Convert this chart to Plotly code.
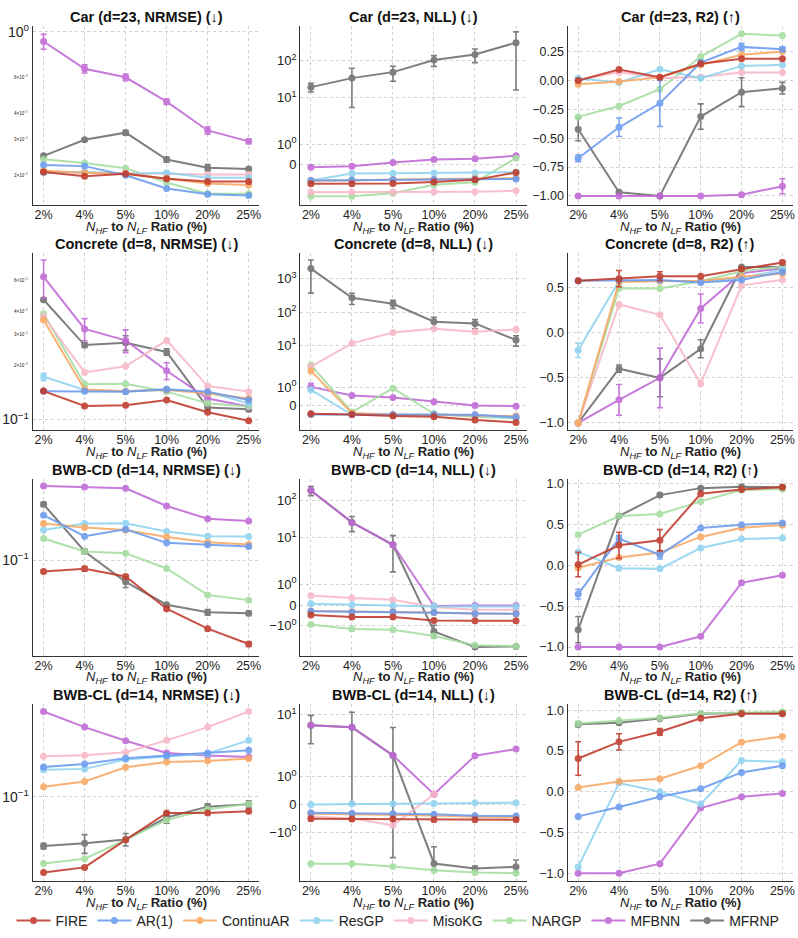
import math
import plotly.graph_objects as go

# ---------------- data ----------------
RATIOS = ["2%", "4%", "5%", "10%", "20%", "25%"]
METHODS = ["FIRE", "AR(1)", "ContinuAR", "ResGP", "MisoKG", "NARGP", "MFBNN", "MFRNP"]
COLORS = ["#c0392b", "#6a9bef", "#f8a863", "#8fd3f0", "#f7b8c6", "#a5dda0", "#c068d6", "#6e6e6e"]
N = None

CAR_NRMSE = {
    "FIRE": [0.207, 0.197, 0.203, 0.192, 0.186, 0.186],
    "AR(1)": [0.224, 0.221, 0.1995, 0.172, 0.161, 0.159],
    "ContinuAR": [0.210, 0.205, 0.203, 0.193, 0.182, 0.179],
    "ResGP": [0.205, 0.207, 0.203, 0.205, 0.194, 0.194],
    "MisoKG": [0.207, 0.206, 0.205, 0.203, 0.201, 0.201],
    "NARGP": [0.239, 0.229, 0.216, 0.184, 0.162, 0.162],
    "MFBNN": [0.897, 0.66, 0.60, 0.456, 0.33, 0.292],
    "MFRNP": [0.248, 0.297, 0.322, 0.238, 0.217, 0.214],
}
CAR_NRMSE_ERR = {
    "MFBNN": [0.075, 0.03, 0.022, 0.014, 0.014, 0.008],
    "MFRNP": [0.004, 0.004, 0.009, 0.007, 0.008, 0.004],
}
CAR_NLL = {
    "FIRE": [-0.92, -0.92, -0.91, -0.83, -0.73, -0.37],
    "AR(1)": [-0.76, -0.74, -0.72, -0.71, -0.70, -0.69],
    "ContinuAR": [-0.76, -0.76, -0.71, -0.70, -0.66, -0.65],
    "ResGP": [-0.76, -0.42, -0.405, -0.40, -0.40, -0.36],
    "MisoKG": [-1.33, -1.33, -1.32, -1.30, -1.30, -1.26],
    "NARGP": [-1.52, -1.52, -1.38, -0.97, -0.84, 0.32],
    "MFBNN": [-0.113, -0.065, 0.113, 0.26, 0.29, 0.44],
    "MFRNP": [19.1, 33.4, 48.4, 102, 145, 301],
}
CAR_NLL_ERR = {
    "MFRNP": [5, 28, 21, 33, 58, 285],
}
CAR_R2 = {
    "FIRE": [0.0, 0.095, 0.029, 0.145, 0.188, 0.188],
    "AR(1)": [-0.673, -0.405, -0.197, 0.156, 0.292, 0.272],
    "ContinuAR": [-0.032, -0.009, 0.029, 0.136, 0.223, 0.251],
    "ResGP": [0.02, -0.017, 0.098, 0.02, 0.127, 0.136],
    "MisoKG": [0.0, 0.075, 0.02, 0.03, 0.069, 0.069],
    "NARGP": [-0.315, -0.22, -0.075, 0.208, 0.405, 0.39],
    "MFBNN": [-1.0, -1.0, -1.0, -1.0, -0.99, -0.916],
    "MFRNP": [-0.422, -0.968, -1.0, -0.312, -0.101, -0.066],
}
CAR_R2_ERR = {
    "AR(1)": [0.03, 0.08, 0.2, 0.02, 0.03, 0.02],
    "MFBNN": [N, N, N, N, N, 0.065],
    "MFRNP": [0.1, 0.015, N, 0.11, 0.125, 0.05],
}
CONCRETE_NRMSE = {
    "FIRE": [0.144, 0.119, 0.12, 0.1285, 0.1098, 0.0983],
    "AR(1)": [0.1435, 0.1435, 0.143, 0.147, 0.143, 0.1285],
    "ContinuAR": [0.359, 0.147, 0.1435, 0.146, 0.14, 0.131],
    "ResGP": [0.173, 0.146, 0.1435, 0.148, 0.142, 0.123],
    "MisoKG": [0.375, 0.183, 0.198, 0.276, 0.1535, 0.143],
    "NARGP": [0.388, 0.157, 0.158, 0.143, 0.123, 0.118],
    "MFBNN": [0.624, 0.32, 0.276, 0.187, 0.131, 0.118],
    "MFRNP": [0.465, 0.26, 0.268, 0.238, 0.1165, 0.114],
}
CONCRETE_NRMSE_ERR = {
    "ResGP": [0.008, N, N, N, N, N],
    "MFBNN": [0.15, 0.045, 0.04, 0.02, 0.005, 0.005],
    "MFRNP": [0.01, 0.008, 0.025, 0.01, 0.003, 0.003],
}
CONCRETE_NLL = {
    "FIRE": [-0.45, -0.486, -0.576, -0.612, -0.79, -0.918],
    "AR(1)": [-0.486, -0.486, -0.5, -0.486, -0.5, -0.63],
    "ContinuAR": [1.872, -0.414, -0.486, -0.52, -0.52, -0.576],
    "ResGP": [0.846, -0.504, -0.504, -0.486, -0.558, -0.666],
    "MisoKG": [2.29, 11.5, 24.5, 31.6, 25.7, 30.2],
    "NARGP": [2.57, -0.36, 0.936, -0.45, -0.61, -0.70],
    "MFBNN": [1.008, 0.54, 0.432, 0.198, 0.0, -0.036],
    "MFRNP": [2043, 269, 178, 51.3, 45.7, 14.5],
}
CONCRETE_NLL_ERR = {
    "MFBNN": [0.2, N, N, N, N, N],
    "MFRNP": [1670, 100, 50, 18, 14, 5],
}
CONCRETE_R2 = {
    "FIRE": [0.578, 0.6, 0.626, 0.626, 0.707, 0.78],
    "AR(1)": [0.578, 0.586, 0.586, 0.556, 0.586, 0.674],
    "ContinuAR": [-1.0, 0.563, 0.575, 0.575, 0.62, 0.656],
    "ResGP": [-0.195, 0.575, 0.575, 0.567, 0.608, 0.70],
    "MisoKG": [-1.0, 0.313, 0.199, -0.564, 0.523, 0.589],
    "NARGP": [-1.0, 0.494, 0.49, 0.571, 0.681, 0.733],
    "MFBNN": [-1.0, -0.744, -0.5, 0.269, 0.66, 0.715],
    "MFRNP": [-1.0, -0.398, -0.5, -0.177, 0.729, 0.729],
}
CONCRETE_R2_ERR = {
    "FIRE": [N, 0.09, 0.05, N, N, 0.02],
    "ResGP": [0.08, N, N, N, N, N],
    "MFBNN": [N, 0.17, 0.33, 0.16, N, N],
    "MFRNP": [N, 0.04, 0.21, 0.1, N, N],
}
BWBCD_NRMSE = {
    "FIRE": [0.0837, 0.0873, 0.0774, 0.0466, 0.034, 0.0267],
    "AR(1)": [0.203, 0.146, 0.1627, 0.1313, 0.1273, 0.124],
    "ContinuAR": [0.178, 0.167, 0.161, 0.144, 0.1327, 0.128],
    "ResGP": [0.161, 0.178, 0.179, 0.1568, 0.146, 0.145],
    "MisoKG": [N, N, N, N, N, N],
    "NARGP": [0.1405, 0.1146, 0.1116, 0.0877, 0.0577, 0.0533],
    "MFBNN": [0.321, 0.316, 0.31, 0.2346, 0.192, 0.1855],
    "MFRNP": [0.241, 0.1146, 0.0711, 0.0496, 0.044, 0.0433],
}
BWBCD_NRMSE_ERR = {
    "FIRE": [0.002, 0.003, 0.002, 0.001, N, 0.001],
    "MFRNP": [0.008, 0.004, 0.006, N, 0.002, 0.0015],
}
BWBCD_NLL = {
    "FIRE": [-0.482, -0.579, -0.579, -0.74, -0.756, -0.756],
    "AR(1)": [-0.30, -0.33, -0.33, -0.36, -0.42, -0.42],
    "ContinuAR": [-0.29, -0.32, -0.32, -0.354, -0.418, -0.418],
    "ResGP": [0.064, 0.016, -0.016, -0.064, -0.07, -0.07],
    "MisoKG": [0.466, 0.338, 0.257, -0.096, -0.225, -0.225],
    "NARGP": [-0.932, -1.157, -1.19, -1.49, -1.94, -1.98],
    "MFBNN": [182, 25.4, 6.4, -0.048, -0.016, -0.016],
    "MFRNP": [182, 25.4, 6.4, -1.27, -2.06, -1.99],
}
BWBCD_NLL_ERR = {
    "MFRNP": [50, 11, 4.8, 0.3, N, N],
}
BWBCD_R2 = {
    "FIRE": [0.008, 0.243, 0.304, 0.872, 0.925, 0.953],
    "AR(1)": [-0.353, 0.325, 0.126, 0.454, 0.495, 0.515],
    "ContinuAR": [-0.032, 0.093, 0.154, 0.345, 0.458, 0.491],
    "ResGP": [0.162, -0.037, -0.045, 0.211, 0.32, 0.333],
    "MisoKG": [N, N, N, N, N, N],
    "NARGP": [0.373, 0.6, 0.625, 0.779, 0.917, 0.929],
    "MFBNN": [-1.0, -1.0, -1.0, -0.868, -0.215, -0.122],
    "MFRNP": [-0.787, 0.6, 0.856, 0.941, 0.957, 0.953],
}
BWBCD_R2_ERR = {
    "FIRE": [0.15, 0.16, 0.13, N, N, N],
    "AR(1)": [0.06, 0.04, 0.05, N, N, N],
    "MFRNP": [0.16, 0.02, 0.02, N, N, N],
}
BWBCL_NRMSE = {
    "FIRE": [0.0311, 0.0336, 0.0514, 0.0778, 0.0778, 0.0798],
    "AR(1)": [0.1585, 0.166, 0.181, 0.1887, 0.1965, 0.2047],
    "ContinuAR": [0.1166, 0.1265, 0.1577, 0.171, 0.1738, 0.1802],
    "ResGP": [0.1514, 0.1537, 0.1774, 0.185, 0.1945, 0.2387],
    "MisoKG": [0.1866, 0.1896, 0.1984, 0.2387, 0.293, 0.3725],
    "NARGP": [0.0357, 0.0384, 0.0514, 0.0699, 0.0824, 0.0893],
    "MFBNN": [0.3725, 0.293, 0.2375, 0.1965, 0.1887, 0.185],
    "MFRNP": [0.0467, 0.0487, 0.0517, 0.0725, 0.0858, 0.0889],
}
BWBCL_NRMSE_ERR = {
    "MFRNP": [0.002, 0.007, 0.005, 0.006, 0.004, 0.005],
}
BWBCL_NLL = {
    "FIRE": [-0.516, -0.528, -0.528, -0.552, -0.552, -0.552],
    "AR(1)": [-0.30, -0.32, -0.34, -0.35, -0.41, -0.42],
    "ContinuAR": [-0.336, -0.348, -0.372, -0.396, -0.444, -0.48],
    "ResGP": [0.0, 0.024, 0.024, 0.036, 0.06, 0.06],
    "MisoKG": [-0.432, -0.504, -0.756, 0.372, N, N],
    "NARGP": [-2.42, -2.40, -2.74, -3.24, -3.6, -3.72],
    "MFBNN": [6.07, 5.53, 1.776, 0.372, 1.764, 2.01],
    "MFRNP": [6.07, 5.53, 1.776, -2.38, -3.0, -2.78],
}
BWBCL_NLL_ERR = {
    "MFRNP": [3.5, 5.5, 3.7, 0.85, 0.3, 0.75],
}
BWBCL_R2 = {
    "FIRE": [0.408, 0.612, 0.735, 0.902, 0.955, 0.955],
    "AR(1)": [-0.302, -0.188, -0.061, 0.037, 0.237, 0.318],
    "ContinuAR": [0.053, 0.127, 0.159, 0.318, 0.608, 0.678],
    "ResGP": [-0.922, 0.106, 0.0, -0.151, 0.384, 0.367],
    "MisoKG": [N, N, N, N, N, N],
    "NARGP": [0.837, 0.873, 0.906, 0.963, 0.976, 0.98],
    "MFBNN": [-1.0, -1.0, -0.882, -0.2, -0.061, -0.02],
    "MFRNP": [0.829, 0.845, 0.898, 0.955, 0.967, 0.967],
}
BWBCL_R2_ERR = {
    "FIRE": [0.205, 0.1, 0.04, N, N, N],
    "MFRNP": [0.03, N, N, N, N, N],
}

PANELS = [
    dict(title="Car (d=23, NRMSE) (↓)", scale="log", data=CAR_NRMSE, err=CAR_NRMSE_ERR,
         yrange=(-0.845, 0.029), major=[1.0], minor=[0.2, 0.3, 0.4, 0.6]),
    dict(title="Car (d=23, NLL) (↓)", scale="symlog", data=CAR_NLL, err=CAR_NLL_ERR,
         yrange=(-2.16, 7.48), major=[0, 1, 10, 100]),
    dict(title="Car (d=23, R2) (↑)", scale="linear", data=CAR_R2, err=CAR_R2_ERR,
         yrange=(-1.078, 0.474), major=[-1.0, -0.75, -0.5, -0.25, 0.0, 0.25], fmt="{:.2f}"),
    dict(title="Concrete (d=8, NRMSE) (↓)", scale="log", data=CONCRETE_NRMSE, err=CONCRETE_NRMSE_ERR,
         yrange=(-1.057, -0.070), major=[0.1], minor=[0.2, 0.3, 0.4, 0.6]),
    dict(title="Concrete (d=8, NLL) (↓)", scale="symlog", data=CONCRETE_NLL, err=CONCRETE_NLL_ERR,
         yrange=(-1.46, 9.2), major=[0, 1, 10, 100, 1000]),
    dict(title="Concrete (d=8, R2) (↑)", scale="linear", data=CONCRETE_R2, err=CONCRETE_R2_ERR,
         yrange=(-1.075, 0.888), major=[-1.0, -0.5, 0.0, 0.5], fmt="{:.1f}"),
    dict(title="BWB-CD (d=14, NRMSE) (↓)", scale="log", data=BWBCD_NRMSE, err=BWBCD_NRMSE_ERR,
         yrange=(-1.652, -0.448), major=[0.1], minor=[]),
    dict(title="BWB-CD (d=14, NLL) (↓)", scale="symlog", data=BWBCD_NLL, err=BWBCD_NLL_ERR,
         yrange=(-2.70, 6.73), major=[-1, 0, 1, 10, 100]),
    dict(title="BWB-CD (d=14, R2) (↑)", scale="linear", data=BWBCD_R2, err=BWBCD_R2_ERR,
         yrange=(-1.103, 1.047), major=[-1.0, -0.5, 0.0, 0.5, 1.0], fmt="{:.1f}"),
    dict(title="BWB-CL (d=14, NRMSE) (↓)", scale="log", data=BWBCL_NRMSE, err=BWBCL_NRMSE_ERR,
         yrange=(-1.567, -0.38), major=[0.1], minor=[]),
    dict(title="BWB-CL (d=14, NLL) (↓)", scale="symlog", data=BWBCL_NLL, err=BWBCL_NLL_ERR,
         yrange=(-3.09, 4.03), major=[-1, 0, 1, 10]),
    dict(title="BWB-CL (d=14, R2) (↑)", scale="linear", data=BWBCL_R2, err=BWBCL_R2_ERR,
         yrange=(-1.098, 1.073), major=[-1.0, -0.5, 0.0, 0.5, 1.0], fmt="{:.1f}"),
]
XTITLE = "<i>N<sub>HF</sub></i><b> to </b><i>N<sub>LF</sub></i><b> Ratio (%)</b>"

# ---------------- helpers ----------------
W, H = 798, 938
COLS_PX = [(33, 260), (301, 528), (569, 795)]
ROWS_PX = [(22, 202), (250, 428), (478, 655), (704, 882)]
FONT = "Liberation Sans, Arial, sans-serif"
MINUS = "\u2212"


def symlog(v, linthresh=2.0, linscale=1.0, base=10.0):
    if v is None:
        return None
    adj = linscale / (1.0 - 1.0 / base)
    a = abs(v)
    if a <= linthresh:
        return v * adj
    return math.copysign(linthresh * (adj + math.log10(a / linthresh) / math.log10(base)), v)


def pow_label(v):
    if v == 0:
        return "0"
    e = int(round(math.log10(abs(v))))
    sgn = MINUS if v < 0 else ""
    es = (MINUS + str(-e)) if e < 0 else str(e)
    return f"{sgn}10<sup>{es}</sup>"


def minor_label(v):
    e = int(math.floor(math.log10(v) + 1e-9))
    m = int(round(v / 10 ** e))
    es = (MINUS + str(-e)) if e < 0 else str(e)
    return f"{m}\u00d710<sup>{es}</sup>"


def lin_label(v, fmt):
    s = fmt.format(v)
    if s.startswith("-"):
        s = MINUS + s[1:]
    return s


fig = go.Figure()
annotations = []
layout = {}

for p_idx, panel in enumerate(PANELS):
    r, c = divmod(p_idx, 3)
    n = p_idx + 1
    xa = "x" if n == 1 else f"x{n}"
    ya = "y" if n == 1 else f"y{n}"
    xkey = "xaxis" if n == 1 else f"xaxis{n}"
    ykey = "yaxis" if n == 1 else f"yaxis{n}"
    x0, x1 = COLS_PX[c]
    y0, y1 = ROWS_PX[r]
    xdom = [x0 / W, x1 / W]
    ydom = [1 - y1 / H, 1 - y0 / H]

    scale = panel["scale"]
    xs = list(range(len(RATIOS)))

    # traces, drawn back-to-front (FIRE last / on top)
    for m_idx in reversed(range(len(METHODS))):
        name = METHODS[m_idx]
        vals = panel["data"][name]
        if all(v is None for v in vals):
            continue
        errs = panel["err"].get(name, [None] * len(vals))
        color = COLORS[m_idx]
        if scale == "symlog":
            yv = [symlog(v) for v in vals]
            eplus = [None if (e is None or v is None) else symlog(v + e) - symlog(v) for v, e in zip(vals, errs)]
            eminus = [None if (e is None or v is None) else symlog(v) - symlog(v - e) for v, e in zip(vals, errs)]
            err_y = dict(type="data", array=eplus, arrayminus=eminus, symmetric=False,
                         color=color, thickness=1.6, width=3, visible=True)
        else:
            yv = vals
            err_y = dict(type="data", array=errs, symmetric=True,
                         color=color, thickness=1.6, width=3, visible=True)
        fig.add_trace(go.Scatter(
            x=xs, y=yv, mode="lines+markers", name=name,
            line=dict(color=color, width=2),
            marker=dict(color=color, size=7),
            error_y=err_y, opacity=0.88,
            xaxis=xa, yaxis=ya,
            legendgroup=name, legendrank=m_idx + 1,
            showlegend=(p_idx == 0),
        ))

    # x axis
    layout[xkey] = dict(
        domain=xdom, anchor=ya, range=[-0.26, 5.26],
        tickmode="array", tickvals=xs, ticktext=RATIOS,
        showgrid=True, gridcolor="#d0d0d0", griddash="dot", gridwidth=1,
        showline=True, linecolor="#333333", linewidth=1.4, zeroline=False,
        ticks="", ticklen=0, ticklabelstandoff=-2, ticklabeloverflow="allow",
        tickfont=dict(size=12.5, color="#222222", family=FONT),
    )
    annotations.append(dict(
        xref="paper", yref="paper", x=(xdom[0] + xdom[1]) / 2, y=1 - (y1 + 12) / H,
        xanchor="center", yanchor="top", showarrow=False, text=XTITLE,
        font=dict(size=13, color="#222222", family=FONT)))

    # y axis
    yax = dict(
        domain=ydom, anchor=xa,
        showgrid=True, gridcolor="#d0d0d0", griddash="dot", gridwidth=1,
        showline=True, linecolor="#333333", linewidth=1.4, zeroline=False,
        ticks="", ticklen=0, tickfont=dict(size=12.5, color="#222222", family=FONT),
        tickmode="array",
    )
    if scale == "log":
        yax.update(type="log", range=list(panel["yrange"]),
                   tickvals=panel["major"], ticktext=[pow_label(v) for v in panel["major"]],
                   tickfont=dict(size=14, color="#222222", family=FONT))
        for mv in panel["minor"]:
            annotations.append(dict(
                xref=f"{xa} domain", yref=ya, x=0, y=math.log10(mv), xanchor="right", yanchor="middle",
                xshift=-3, text=minor_label(mv), showarrow=False,
                font=dict(size=4.5, color="#222222", family=FONT)))
    elif scale == "symlog":
        yax.update(type="linear", range=list(panel["yrange"]),
                   tickvals=[symlog(v) for v in panel["major"]],
                   ticktext=[pow_label(v) for v in panel["major"]],
                   tickfont=dict(size=13, color="#222222", family=FONT))
    else:
        yax.update(type="linear", range=list(panel["yrange"]),
                   tickvals=panel["major"],
                   ticktext=[lin_label(v, panel["fmt"]) for v in panel["major"]])
    layout[ykey] = yax

    # title
    annotations.append(dict(
        xref="paper", yref="paper", x=(xdom[0] + xdom[1]) / 2, y=ydom[1], yshift=-1,
        xanchor="center", yanchor="bottom", showarrow=False,
        text=f"<b>{panel['title']}</b>",
        font=dict(size=14.5, color="#111111", family=FONT)))

fig.update_layout(
    **layout,
    annotations=annotations,
    width=W, height=H,
    margin=dict(l=0, r=0, t=0, b=0),
    paper_bgcolor="white", plot_bgcolor="white",
    font=dict(family=FONT, color="#222222"),
    legend=dict(orientation="h", x=0.5, xanchor="center", y=0.0, yanchor="bottom",
                font=dict(size=14, family=FONT, color="#222222"),
                itemwidth=34, tracegroupgap=0, bgcolor="rgba(0,0,0,0)"),
)

fig.write_html("out.html", config={"displayModeBar": False},
               post_script="document.body.style.margin='0';document.body.style.padding='0';")
